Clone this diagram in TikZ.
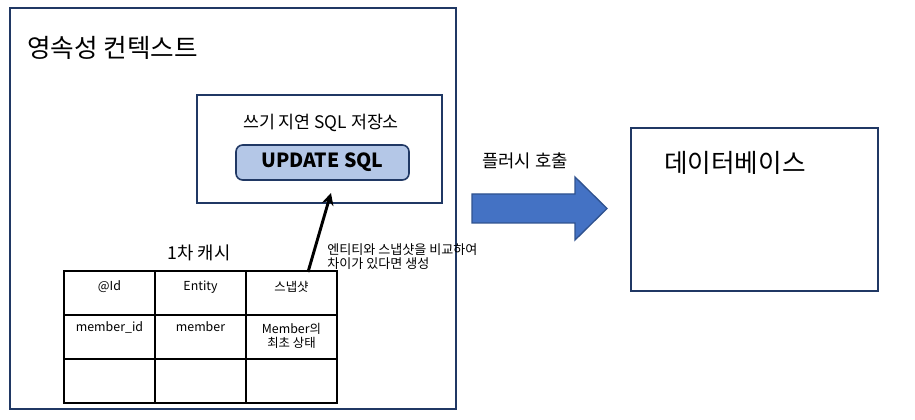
\documentclass[tikz,border=0pt]{standalone}
\usepackage{fontspec}
\setmainfont{Noto Sans CJK KR}
\usetikzlibrary{arrows.meta}
\definecolor{navy}{HTML}{203864}
\definecolor{sqlfill}{HTML}{B4C7E7}
\definecolor{flushblue}{HTML}{4472C4}
\definecolor{flushedge}{HTML}{2F528F}
\tikzset{
  frame/.style={draw=navy, line width=1.5pt, inner sep=0},
  cell/.style={draw, line width=1.5pt, minimum width=68.25pt, minimum height=33pt, inner sep=0},
  celltext/.style={font=\fontsize{9.3}{11}\selectfont, align=center, inner sep=0},
  title/.style={font=\fontsize{19.2}{22}\selectfont, inner sep=0},
  label/.style={font=\fontsize{13.3}{15}\selectfont, inner sep=0}
}

\begin{document}
\begin{tikzpicture}[x=0.75pt,y=-0.75pt]
\useasboundingbox (0,0) rectangle (915,420);
\node[frame, minimum width=334.5pt, minimum height=300.75pt] (ctx) at (233,208.5) {};
\node[title, anchor=west] (ctxname) at (27,48) {영속성 컨텍스트};
\node[frame, minimum width=183.75pt, minimum height=81pt] (store) at (319.5,149) {};
\node[label, font=\fontsize{13}{15}\selectfont] (storename) at (321,123) {쓰기 지연 SQL 저장소};
\node[draw=navy, fill=sqlfill, rounded corners=5pt, line width=1.2pt, minimum width=129.75pt, minimum height=26.25pt, font=\bfseries\fontsize{14.6}{18}\selectfont] (sql) at (322.5,162.5) {UPDATE SQL};
\node[label] (cachename) at (199,253) {1차 캐시};
\foreach \r in {1,2,3}
  \foreach \c in {1,2,3}
    \node[cell] (c\r\c) at ({64+91*(\c-0.5)},{271+44*(\r-0.5)}) {};
\node[celltext] (t11) at ([yshift=-12.75pt]c11.north) {@Id};
\node[celltext] (t12) at ([yshift=-12.75pt]c12.north) {Entity};
\node[celltext] (t13) at ([yshift=-12.75pt]c13.north) {스냅샷};
\node[celltext] (t21) at ([yshift=-9.75pt]c21.north) {member\_id};
\node[celltext] (t22) at ([yshift=-9.75pt]c22.north) {member};
\node[celltext] (t23) at ([yshift=-16.5pt]c23.north) {Member의\\최초 상태};
\draw[line width=2.2pt, -{Stealth[length=9pt,width=9pt]}] ([xshift=12.4pt,yshift=-1.5pt]c13.north) -- ([xshift=8.6pt,yshift=8.25pt]store.south);
\node[anchor=west, align=left, inner sep=0, font=\fontsize{9.8}{10.5}\selectfont] (note) at (327,257) {엔티티와 스냅샷을 비교하여\\차이가 있다면 생성};
\draw[fill=flushblue, draw=flushedge, line width=1pt] (472,194) -- (575,194) -- (575,177) -- (607,208.5) -- (575,240) -- (575,223) -- (472,223) -- cycle;
\node[label] (flushname) at (525,161) {플러시 호출};
\node[frame, minimum width=185.25pt, minimum height=122.25pt] (db) at (754.5,209.5) {};
\node[title, anchor=west] (dbname) at (664,163) {데이터베이스};
\end{tikzpicture}
\end{document}
